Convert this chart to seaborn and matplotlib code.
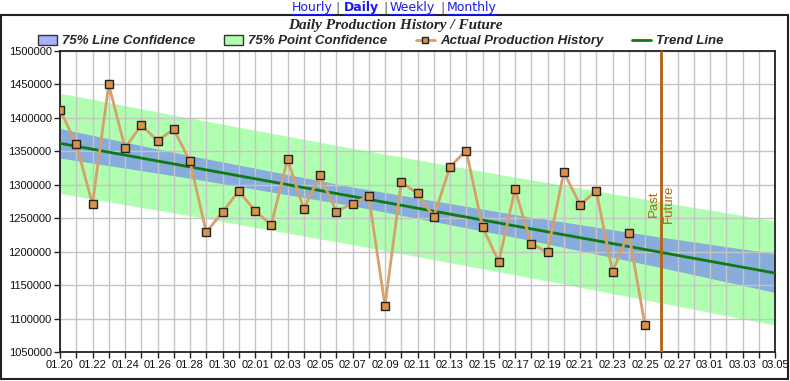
import numpy as np
import pandas as pd
import matplotlib
matplotlib.use("Agg")
import matplotlib.pyplot as plt
import matplotlib.dates as mdates
from matplotlib.patches import Patch, Rectangle
from matplotlib.lines import Line2D
from matplotlib import font_manager
import seaborn as sns

# Données
START = "2021-01-20"
END = "2021-03-05"
LAST_ACTUAL = "2021-02-25"
SPLIT_DAY = "2021-02-26"

production = [1412000, 1361000, 1271000, 1450000, 1355000, 1389000, 1366000,
              1383000, 1335000, 1229000, 1259000, 1291000, 1261000, 1240000,
              1338000, 1264000, 1314000, 1260000, 1272000, 1283000, 1119000,
              1304000, 1287000, 1252000, 1327000, 1351000, 1237000, 1185000,
              1293000, 1212000, 1199000, 1319000, 1270000, 1291000, 1170000,
              1228000, 1090000]

band_days = ["2021-01-20", "2021-01-28", "2021-02-07", "2021-02-17",
             "2021-02-26", "2021-03-05"]
trend = [1362000, 1326700, 1282600, 1238500, 1198900, 1168000]
line_conf = [22000, 16900, 14000, 17000, 22700, 29000]
point_conf = [75000, 73000, 72000, 73000, 75500, 78000]

y_ticks = list(range(1050000, 1500001, 50000))
links = ["Hourly", "Daily", "Weekly", "Monthly"]

# Couleurs
GREEN_BAND = "#b0ffb0"
BLUE_BAND = "#88acdc"
BLUE_LEGEND = "#a9b1f7"
ACTUAL_LINE = "#d6a06c"
ACTUAL_FACE = "#d8924c"
TREND = "#0f7a12"
SPLIT = "#b5620f"


def pick_font(names):
    avail = {f.name for f in font_manager.fontManager.ttflist}
    return [n for n in names if n in avail] + ["DejaVu Sans"]


def main():
    sns.set_style("white")
    plt.rcParams["font.family"] = ["Liberation Sans", "DejaVu Sans"]

    dates = pd.date_range(START, LAST_ACTUAL, freq="D")
    df = pd.DataFrame({"date": dates, "production": production})
    bands = pd.DataFrame({"date": pd.to_datetime(band_days), "trend": trend,
                          "lc": line_conf, "pc": point_conf})

    fig = plt.figure(figsize=(7.9, 3.81), dpi=100)
    ax = fig.add_axes([60 / 790, 29 / 381, 715 / 790, 301 / 381])

    ax.fill_between(bands["date"], bands["trend"] - bands["pc"],
                    bands["trend"] + bands["pc"], color=GREEN_BAND, lw=0, zorder=1)
    ax.fill_between(bands["date"], bands["trend"] - bands["lc"],
                    bands["trend"] + bands["lc"], color=BLUE_BAND, lw=0, zorder=1.1)

    sns.lineplot(data=bands, x="date", y="trend", color=TREND, lw=2, ax=ax, zorder=3)
    sns.lineplot(data=df, x="date", y="production", color=ACTUAL_LINE, lw=2,
                 marker="s", markersize=6, markerfacecolor=ACTUAL_FACE,
                 markeredgecolor="#222222", markeredgewidth=1, ax=ax, zorder=4)

    split = pd.Timestamp(SPLIT_DAY)
    ax.axvline(split, color=SPLIT, lw=2, zorder=5)
    ax.text(split - pd.Timedelta(hours=2), 1272000, "Past", rotation=90,
            ha="right", va="center", color=SPLIT, fontsize=9.5)
    ax.text(split + pd.Timedelta(hours=2), 1272000, "Future", rotation=90,
            ha="left", va="center", color=SPLIT, fontsize=9.5)

    # Axes
    ax.set_xlim(pd.Timestamp(START), pd.Timestamp(END))
    ax.set_ylim(y_ticks[0], y_ticks[-1])
    ax.set_yticks(y_ticks)
    ax.set_yticklabels([str(v) for v in y_ticks])
    ax.set_xticks(pd.date_range(START, END, freq="2D"))
    ax.set_xticks(pd.date_range(START, END, freq="D"), minor=True)
    ax.xaxis.set_major_formatter(mdates.DateFormatter("%m.%d"))
    ax.set_xlabel("")
    ax.set_ylabel("")
    ax.set_axisbelow("line")
    ax.grid(True, which="both", axis="x", color="#c4c4c4", lw=1)
    ax.grid(True, which="major", axis="y", color="#c4c4c4", lw=1)
    ax.tick_params(which="both", direction="out", length=4, width=1,
                   color="#222222", labelsize=8, labelcolor="#111111", pad=2)
    ax.tick_params(axis="x", which="both", bottom=True)
    ax.tick_params(axis="y", left=True)
    for s in ax.spines.values():
        s.set_color("#222222")
        s.set_linewidth(1.3)

    # Titre
    fig.text(0.5, 1 - 26 / 381, "Daily Production History / Future",
             ha="center", va="center", fontsize=11, fontweight="bold",
             fontstyle="italic", family=pick_font(["Liberation Serif"]))

    # Légende
    handles = [
        Patch(facecolor=BLUE_LEGEND, edgecolor="#333333", lw=1),
        Patch(facecolor=GREEN_BAND, edgecolor="#333333", lw=1),
        Line2D([], [], color=ACTUAL_LINE, lw=2, marker="s", markersize=5,
               markerfacecolor=ACTUAL_FACE, markeredgecolor="#222222"),
        Line2D([], [], color=TREND, lw=2),
    ]
    labels = ["75% Line Confidence", "75% Point Confidence",
              "Actual Production History", "Trend Line"]
    fig.legend(handles, labels, loc="center", bbox_to_anchor=(0.482, 1 - 41 / 381),
               ncol=4, frameon=False, handlelength=1.4, handleheight=0.8,
               handletextpad=0.4, columnspacing=2.2, borderpad=0,
               prop={"family": pick_font(["Liberation Sans Narrow", "Liberation Sans"]),
                     "weight": "bold", "style": "italic", "size": 9.5})

    # Cadre extérieur
    fig.add_artist(Rectangle((0.001, 0.004), 0.997, 1 - 15 / 381 - 0.004,
                             transform=fig.transFigure, fill=False,
                             edgecolor="#222222", lw=1.5))

    # Liens en haut
    link_x = [292, 344, 390, 447]
    sep_x = [335, 383, 440]
    y_link = 1 - 8 / 381
    texts = []
    for name, x in zip(links, link_x):
        t = fig.text(x / 790, y_link, name, ha="left", va="center", fontsize=9,
                     color="#1a1aee", family="DejaVu Sans",
                     fontweight="bold" if name == "Daily" else "normal")
        texts.append(t)
    for x in sep_x:
        fig.text(x / 790, y_link, "|", ha="left", va="center", fontsize=9,
                 color="#555555", family="DejaVu Sans")
    fig.canvas.draw()
    r = fig.canvas.get_renderer()
    for t in texts:
        bb = t.get_window_extent(r)
        yy = bb.y0 + 1
        fig.add_artist(Line2D([bb.x0, bb.x1], [yy, yy], color="#1a1aee", lw=0.8,
                              transform=None))

    fig.savefig("out.png", dpi=100)
    plt.close(fig)


if __name__ == "__main__":
    main()
